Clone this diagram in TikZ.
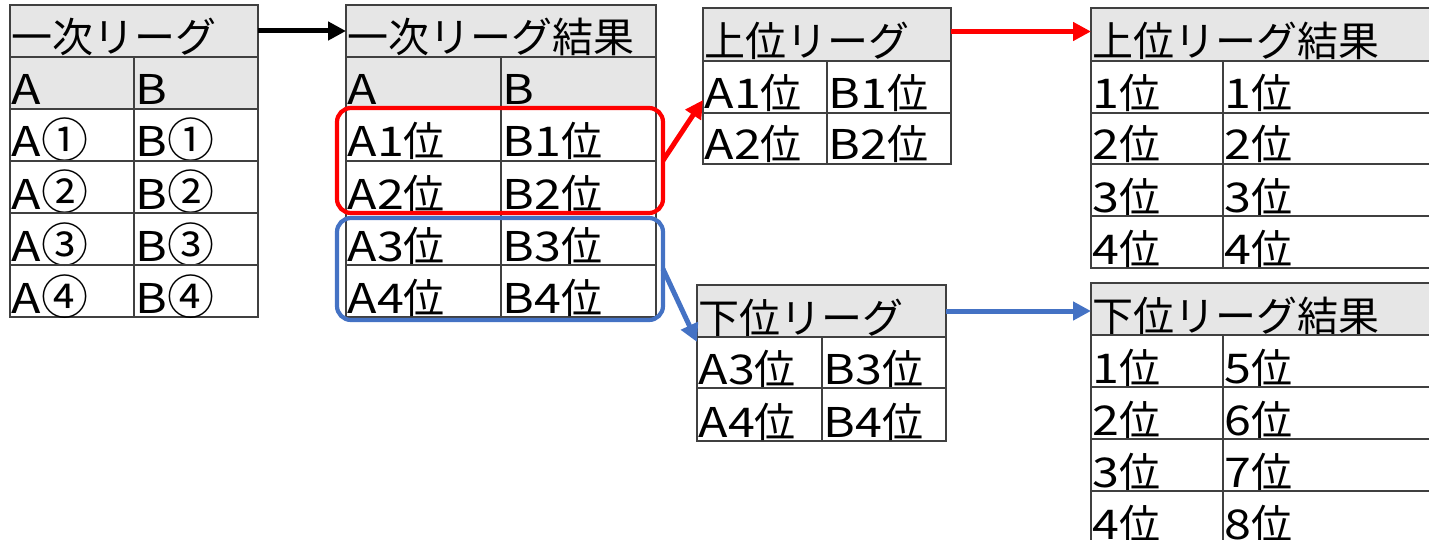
\documentclass[tikz,border=0pt]{standalone}
\usepackage{fontspec}
\setmainfont{Noto Sans CJK JP}
\newfontfamily\wl[FakeStretch=1.18]{Noto Sans CJK JP}
\usetikzlibrary{arrows.meta}
\definecolor{hdr}{HTML}{E6E6E6}
\definecolor{gridc}{HTML}{404040}
\definecolor{lred}{HTML}{FF0000}
\definecolor{lblue}{HTML}{4472C4}
\tikzset{
  cellbox/.style={draw=gridc, line width=1.2pt, anchor=north west, inner sep=0pt, outer sep=0pt},
  celltext/.style={anchor=base west, inner sep=0pt, font=\fontsize{41}{44}\selectfont},
  hd/.style={fill=hdr},
  arr/.style={line width=5pt, -{Triangle[length=18pt,width=18pt]}},
  grp/.style={line width=4.2pt, rounded corners=14pt, anchor=north west, inner sep=0pt, outer sep=0pt},
}
\newcommand\la[1]{{\wl #1}}
\newcommand\cc[1]{{\fontsize{47}{50}\selectfont\raisebox{-1pt}{#1}}}
\newcommand\tc[7][]{%
  \node[cellbox,#1, minimum width=#5pt, minimum height=#6pt] (#2) at (#3,#4) {};
  \node[celltext] (#2t) at ([xshift=1.5pt,yshift=4pt]#2.south west) {#7};}
\begin{document}
\begin{tikzpicture}[x=1pt,y=-1pt]
\useasboundingbox (0,0) rectangle (1429,540);
\clip (0,0) rectangle (1429,540);
% Table 1
\tc[hd]{t1title}{10}{5}{248}{52}{一次リーグ}
\tc[hd]{t1ha}{10}{57}{124}{52}{\la{A}}
\tc[hd]{t1hb}{134}{57}{124}{52}{\la{B}}
\tc{t1a1}{10}{109}{124}{52}{\la{A}\cc{①}}
\tc{t1b1}{134}{109}{124}{52}{\la{B}\cc{①}}
\tc{t1a2}{10}{161}{124}{52}{\la{A}\cc{②}}
\tc{t1b2}{134}{161}{124}{52}{\la{B}\cc{②}}
\tc{t1a3}{10}{213}{124}{52}{\la{A}\cc{③}}
\tc{t1b3}{134}{213}{124}{52}{\la{B}\cc{③}}
\tc{t1a4}{10}{265}{124}{52}{\la{A}\cc{④}}
\tc{t1b4}{134}{265}{124}{52}{\la{B}\cc{④}}
% Table 2
\tc[hd]{t2title}{346}{5}{310}{52}{一次リーグ結果}
\tc[hd]{t2ha}{346}{57}{155}{52}{\la{A}}
\tc[hd]{t2hb}{501}{57}{155}{52}{\la{B}}
\tc{t2a1}{346}{109}{155}{52}{\la{A1}位}
\tc{t2b1}{501}{109}{155}{52}{\la{B1}位}
\tc{t2a2}{346}{161}{155}{52}{\la{A2}位}
\tc{t2b2}{501}{161}{155}{52}{\la{B2}位}
\tc{t2a3}{346}{213}{155}{52}{\la{A3}位}
\tc{t2b3}{501}{213}{155}{52}{\la{B3}位}
\tc{t2a4}{346}{265}{155}{52}{\la{A4}位}
\tc{t2b4}{501}{265}{155}{52}{\la{B4}位}
% Table 3
\tc[hd]{t3title}{703}{8}{248}{53}{上位リーグ}
\tc{t3a1}{703}{61}{124}{52}{\la{A1}位}
\tc{t3b1}{827}{61}{124}{52}{\la{B1}位}
\tc{t3a2}{703}{113}{124}{51}{\la{A2}位}
\tc{t3b2}{827}{113}{124}{51}{\la{B2}位}
% Table 4
\tc[hd]{t4title}{1091}{8}{360}{53}{上位リーグ結果}
\tc{t4a1}{1091}{61}{132}{52}{\la{1}位}
\tc{t4b1}{1223}{61}{228}{52}{\la{1}位}
\tc{t4a2}{1091}{113}{132}{51}{\la{2}位}
\tc{t4b2}{1223}{113}{228}{51}{\la{2}位}
\tc{t4a3}{1091}{164}{132}{52}{\la{3}位}
\tc{t4b3}{1223}{164}{228}{52}{\la{3}位}
\tc{t4a4}{1091}{216}{132}{52}{\la{4}位}
\tc{t4b4}{1223}{216}{228}{52}{\la{4}位}
% Table 5
\tc[hd]{t5title}{697}{285}{249}{52}{下位リーグ}
\tc{t5a3}{697}{337}{125}{51}{\la{A3}位}
\tc{t5b3}{822}{337}{124}{51}{\la{B3}位}
\tc{t5a4}{697}{388}{125}{53}{\la{A4}位}
\tc{t5b4}{822}{388}{124}{53}{\la{B4}位}
% Table 6
\tc[hd]{t6title}{1091}{283}{360}{52}{下位リーグ結果}
\tc{t6a1}{1091}{335}{132}{52}{\la{1}位}
\tc{t6b1}{1223}{335}{228}{52}{\la{5}位}
\tc{t6a2}{1091}{387}{132}{52}{\la{2}位}
\tc{t6b2}{1223}{387}{228}{52}{\la{6}位}
\tc{t6a3}{1091}{439}{132}{52}{\la{3}位}
\tc{t6b3}{1223}{439}{228}{52}{\la{7}位}
\tc{t6a4}{1091}{491}{132}{52}{\la{4}位}
\tc{t6b4}{1223}{491}{228}{52}{\la{8}位}
% group boxes
\node[grp, draw=lred, minimum width=326pt, minimum height=105pt] (redbox) at (337,108) {};
\node[grp, draw=lblue, minimum width=326pt, minimum height=102pt] (bluebox) at (337,218) {};
% arrows
\draw[arr, black] (t1title.east) -- (t2title.west);
\draw[arr, lred] (redbox.east) -- ([yshift=-13pt]t3a1.west);
\draw[arr, lblue] (bluebox.east) -- ([yshift=-5pt]t5a3.north west);
\draw[arr, lred] ([yshift=3pt]t3title.east) -- ([yshift=3pt]t3title.east -| t4title.west);
\draw[arr, lblue] (t5title.east) -- (t5title.east -| t6title.west);
\end{tikzpicture}
\end{document}
